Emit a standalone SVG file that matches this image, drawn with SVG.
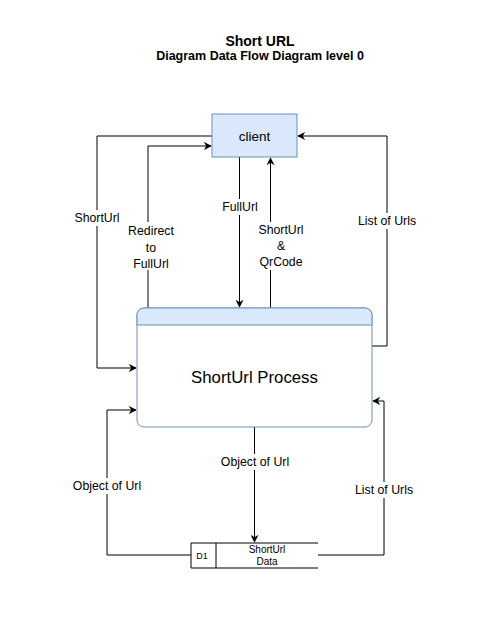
<svg xmlns="http://www.w3.org/2000/svg" width="488" height="639" viewBox="0 0 488 639">
<defs>
<style>
text{font-family:"Liberation Sans",Arial,sans-serif;fill:#000}
.lbl{font-size:12.3px;text-anchor:middle}
.edge{fill:none;stroke:#000;stroke-width:1}
.node{fill:#dae8fc;stroke:#6c8ebf;stroke-width:1}
</style>
<marker id="arr" viewBox="0 0 10 10" refX="9" refY="5" markerWidth="8" markerHeight="8" markerUnits="userSpaceOnUse" orient="auto">
<path d="M0,0 L10,5 L0,10 L3,5 z" fill="#000"/>
</marker>
</defs>
<rect x="0" y="0" width="488" height="639" fill="#fff"/>
<g id="title">
<text x="260" y="46" style="font-size:14px;font-weight:bold;text-anchor:middle">Short URL</text>
<text x="260" y="60" style="font-size:12.5px;font-weight:bold;text-anchor:middle">Diagram Data Flow Diagram level 0</text>
</g>
<g id="connectors">
<path class="edge" d="M212,136 H97 V368 H136" marker-end="url(#arr)"/>
<path class="edge" d="M148,308 V146 H211" marker-end="url(#arr)"/>
<path class="edge" d="M239.5,157 V307" marker-end="url(#arr)"/>
<path class="edge" d="M270.5,308 V158" marker-end="url(#arr)"/>
<path class="edge" d="M372,346 H387 V136 H298" marker-end="url(#arr)"/>
<path class="edge" d="M195,555 H107 V410 H136" marker-end="url(#arr)"/>
<path class="edge" d="M254.5,427 V542" marker-end="url(#arr)"/>
<path class="edge" d="M318,555 H384 V401 H373" marker-end="url(#arr)"/>
</g>
<g id="edge-labels">
<rect x="72" y="210" width="50" height="16" fill="#fff"/>
<text class="lbl" x="97" y="222">ShortUrl</text>
<rect x="126" y="222" width="50" height="48" fill="#fff"/>
<text class="lbl" x="151" y="235">Redirect</text>
<text class="lbl" x="151" y="252">to</text>
<text class="lbl" x="151" y="268">FullUrl</text>
<rect x="219" y="199" width="42" height="16" fill="#fff"/>
<text class="lbl" x="240" y="211">FullUrl</text>
<rect x="255" y="222" width="52" height="48" fill="#fff"/>
<text class="lbl" x="281" y="234">ShortUrl</text>
<text class="lbl" x="281" y="250">&amp;</text>
<text class="lbl" x="281" y="266">QrCode</text>
<rect x="354" y="213" width="66" height="16" fill="#fff"/>
<text class="lbl" x="387" y="225">List of Urls</text>
<rect x="215" y="454" width="80" height="16" fill="#fff"/>
<text class="lbl" x="255" y="466">Object of Url</text>
<rect x="67" y="478" width="80" height="16" fill="#fff"/>
<text class="lbl" x="107" y="490">Object of Url</text>
<rect x="351" y="482" width="66" height="16" fill="#fff"/>
<text class="lbl" x="384" y="494">List of Urls</text>
</g>
<g id="client">
<rect class="node" x="212" y="114" width="85" height="43"/>
<text x="254.5" y="140.5" style="font-size:13.5px;text-anchor:middle">client</text>
</g>
<g id="process">
<rect x="137" y="308" width="235" height="119" rx="7" ry="7" fill="#fff" stroke="#6c8ebf"/>
<path d="M137,325 V315 A7,7 0 0 1 144,308 H365 A7,7 0 0 1 372,315 V325 Z" fill="#dae8fc" stroke="#6c8ebf"/>
<text x="254.5" y="383" style="font-size:16.8px;text-anchor:middle">ShortUrl Process</text>
</g>
<g id="datastore">
<rect x="191" y="543" width="127" height="25" fill="#fff" stroke="none"/>
<path d="M318,543 H191 V568 H318 M216,543 V568" fill="none" stroke="#000"/>
<text x="202" y="559" style="font-size:9px;text-anchor:middle">D1</text>
<text x="267" y="553" style="font-size:10px;text-anchor:middle">ShortUrl</text>
<text x="267" y="565" style="font-size:10px;text-anchor:middle">Data</text>
</g>
</svg>
